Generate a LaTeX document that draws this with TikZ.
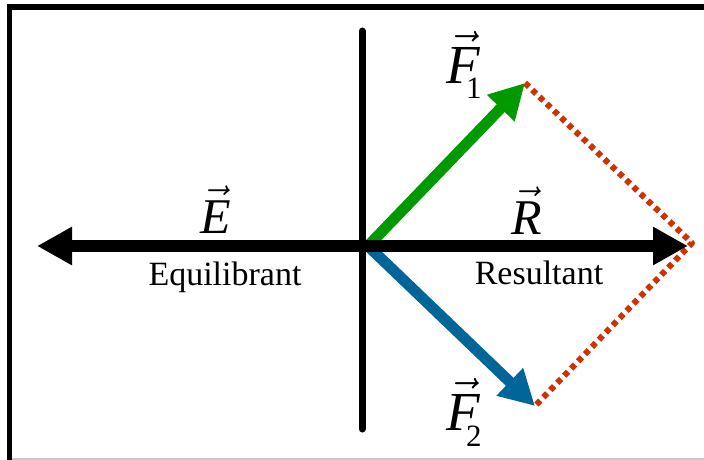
\RequirePackage{fix-cm}
\documentclass[tikz,border=0pt]{standalone}
\usepackage{fontspec}
\setmainfont{Liberation Serif}
\usetikzlibrary{arrows.meta}
\definecolor{ink}{HTML}{000000}
\definecolor{fone}{HTML}{009900}
\definecolor{ftwo}{HTML}{006699}
\definecolor{guide}{HTML}{CC3300}
\definecolor{edge}{HTML}{C8C8C8}

% popisek síly s indexem: F s šipkou, index posunutý dolů pod rameno písmene
\newcommand{\forcelbl}[2]{$\vec{\textit{#1}}$\kern-0.25em\raisebox{-16pt}{\fontsize{31}{31}\selectfont #2}}

\begin{document}
\begin{tikzpicture}[
  x=1pt, y=-1pt,
  line join=round,
  frame/.style={draw=ink, line width=5.5pt, line join=miter},
  axis/.style={draw=ink, line width=7pt, line cap=round},
  % šipky sil: silná čára, plný trojúhelníkový hrot
  force/.style={line width=11pt, -{Triangle[length=35pt,width=36pt]}},
  guideline/.style={draw=guide, line width=6pt, dash pattern=on 5.5pt off 4.5pt},
  sym/.style={font=\fontsize{50}{56}\selectfont, text=ink, inner sep=0pt},
  fsym/.style={font=\fontsize{55}{60}\selectfont, text=ink, inner sep=0pt},
  word/.style={font=\fontsize{34}{40}\selectfont, text=ink, inner sep=0pt},
]
\useasboundingbox (0,0) rectangle (704,460);

% --- Rámeček (vpravo a dole oříznutý)
\draw[frame] (9.5,460) -- (9.5,7) -- (704,7);
\draw[edge, line width=1.5pt] (12,459) -- (704,459);

% --- Body
\coordinate (O)     at (362,246);   % průsečík os
\coordinate (S)     at (368,246);   % začátek šipek F1, F2
\coordinate (top)   at (362,31);
\coordinate (bot)   at (362,429);
\coordinate (Etip)  at (37,246);
\coordinate (Rtip)  at (688,246);
\coordinate (Rcor)  at (692,243);   % roh rovnoběžníku
\coordinate (F1tip) at (525,83);
\coordinate (F2tip) at (535,406);

% --- Svislá osa
\draw[axis] (top) -- (bot);

% --- Rovnoběžník sil (tečkovaně)
\draw[guideline] (F1tip) -- (Rcor) -- (F2tip);

% --- Složky F1, F2
\draw[force, fone] (S) -- (F1tip);
\draw[force, ftwo] (S) -- (F2tip);

% --- Výslednice R a equilibrant E
\draw[force, ink, line width=11.5pt] (O) -- (Rtip);
\draw[force, ink, line width=11.5pt] (O) -- (Etip);

% --- Popisky
\node[sym, anchor=base] (Elbl) at (216,233) {$\vec{\textit{E}}$};
\node[sym, anchor=base] (Rlbl) at (527,234) {$\vec{\textit{R}}$};
\node[fsym, anchor=base west] (F1lbl) at (446,83) {\forcelbl{F}{1}};
\node[fsym, anchor=base west] (F2lbl) at (446,430) {\forcelbl{F}{2}};
\node[word, anchor=base] (Eword) at (225,285) {Equilibrant};
\node[word, anchor=base] (Rword) at (539,284) {Resultant};
\end{tikzpicture}
\end{document}
